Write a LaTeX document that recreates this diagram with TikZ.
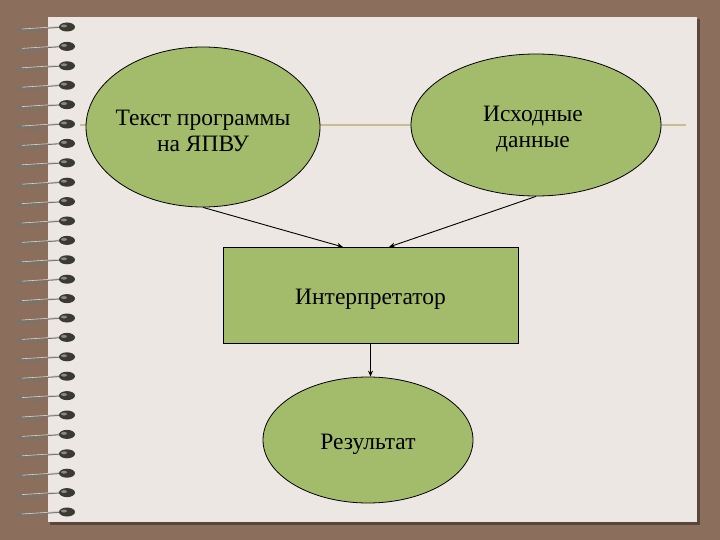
\documentclass[tikz,border=0pt]{standalone}
\usepackage{fontspec}
\setmainfont{Liberation Serif}
\usetikzlibrary{shapes.geometric,arrows.meta}
\definecolor{frame}{HTML}{8B6E5B}
\definecolor{paper}{HTML}{ECE7E3}
\definecolor{leaf}{HTML}{A3BC6C}
\definecolor{rule}{HTML}{C9BC93}
\definecolor{ring}{HTML}{3A3A30}
\tikzset{
  oval/.style={ellipse, draw=black, line width=0.8pt, fill=leaf, inner sep=0pt},
  procbox/.style={rectangle, draw=black, line width=0.8pt, fill=leaf, inner sep=0pt},
  lbl/.style={align=center, inner sep=0pt, font=\fontsize{23.5}{26}\selectfont},
  conn/.style={line width=0.9pt, -{Stealth[length=6pt,width=5pt]}}
}
\begin{document}
\begin{tikzpicture}[x=1pt,y=-1pt]
\useasboundingbox (0,0) rectangle (720,540);
\fill[frame] (0,0) rectangle (720,540);
\fill[black!35!frame] (50,19) rectangle (700,525);
\fill[paper] (48,17) rectangle (697,522);
\draw[rule, line width=1.2pt] (80,125) -- (686,125);
% spiral rings
\foreach \i in {0,...,25}{
  \pgfmathsetmacro{\yy}{27+19.4*\i}
  \draw[ring!70!white, line width=1.4pt] (62,\yy) -- (16,\yy+3) -- (44,\yy+5);
  \draw[white!70!frame, line width=0.6pt] (60,\yy-0.5) -- (22,\yy+2);
  \fill[ring] (67,\yy) ellipse (8 and 4.5);
  \fill[white!40!ring] (64,\yy-1) ellipse (3 and 1.5);
}
\node[oval, minimum width=234, minimum height=160] (prog) at (203,127) {};
\node[lbl] (progt) at (203,131) {Текст программы\\на ЯПВУ};
\node[oval, minimum width=250, minimum height=142] (data) at (536,125) {};
\node[lbl] (datat) at (533,129) {Исходные\\данные};
\node[procbox, minimum width=295, minimum height=96] (interp) at (370.5,295) {};
\node[lbl] (interpt) at (370.5,299) {Интерпретатор};
\node[oval, minimum width=210, minimum height=126] (res) at (368,440) {};
\node[lbl] (rest) at (368,444) {Результат};
\coordinate (a1) at (343,247);
\coordinate (a2) at (389,247);
\draw[conn] (prog.south) -- (a1);
\draw[conn] (data.south) -- (a2);
\draw[conn] (interp.south) -- (interp.south |- res.north);
\end{tikzpicture}
\end{document}
